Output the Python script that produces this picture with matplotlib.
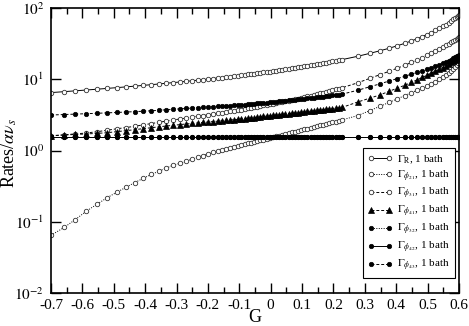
import matplotlib
matplotlib.use("Agg")
import matplotlib.pyplot as plt
from matplotlib.ticker import FixedLocator, MultipleLocator, NullLocator

plt.rcParams["font.family"] = ["Liberation Serif", "DejaVu Serif"]
plt.rcParams["mathtext.fontset"] = "stix"

# coupling G (sample points of the curves)
g = [
    -0.700, -0.658, -0.623, -0.587, -0.552, -0.520, -0.490, -0.461, -0.433, -0.406,
    -0.380, -0.356, -0.332, -0.310, -0.289, -0.269, -0.250, -0.232, -0.215, -0.199,
    -0.184, -0.169, -0.155, -0.142, -0.129, -0.117, -0.105, -0.094, -0.083, -0.073,
    -0.063, -0.053, -0.043, -0.033, -0.023, -0.013, -0.003, 0.007, 0.017, 0.027,
    0.037, 0.047, 0.057, 0.067, 0.077, 0.087, 0.097, 0.107, 0.117, 0.127,
    0.137, 0.147, 0.157, 0.167, 0.177, 0.187, 0.197, 0.207, 0.217, 0.227,
    0.277, 0.316, 0.348, 0.377, 0.403, 0.427, 0.448, 0.466, 0.483, 0.498,
    0.512, 0.525, 0.537, 0.548, 0.558, 0.567, 0.575, 0.582, 0.588, 0.593,
    0.597, 0.600,
]

rate_R = [
    6.50, 6.70, 6.88, 7.07, 7.26, 7.45, 7.63, 7.82, 8.01, 8.21,
    8.40, 8.59, 8.79, 8.98, 9.16, 9.35, 9.53, 9.71, 9.89, 10.07,
    10.23, 10.41, 10.57, 10.74, 10.90, 11.06, 11.22, 11.37, 11.53, 11.68,
    11.83, 11.98, 12.14, 12.30, 12.47, 12.64, 12.81, 12.99, 13.18, 13.37,
    13.57, 13.77, 13.98, 14.20, 14.42, 14.65, 14.89, 15.13, 15.38, 15.65,
    15.92, 16.20, 16.49, 16.79, 17.10, 17.42, 17.76, 18.11, 18.47, 18.85,
    21.0, 23.1, 25.1, 27.2, 29.5, 31.9, 34.5, 36.9, 39.7, 42.4,
    45.3, 48.4, 51.7, 55.1, 58.6, 62.2, 65.7, 69.2, 72.4, 75.4,
    78.0, 80.0,
]

rate_phi21 = [
    0.0646, 0.0832, 0.107, 0.141, 0.178, 0.219, 0.260, 0.305, 0.355, 0.407,
    0.462, 0.513, 0.569, 0.624, 0.661, 0.708, 0.759, 0.804, 0.851, 0.895,
    0.938, 0.979, 1.019, 1.054, 1.091, 1.125, 1.159, 1.191, 1.225, 1.256,
    1.288, 1.321, 1.355, 1.390, 1.426, 1.462, 1.500, 1.538, 1.578, 1.618,
    1.660, 1.702, 1.746, 1.791, 1.837, 1.884, 1.932, 1.982, 2.032, 2.084,
    2.138, 2.193, 2.249, 2.307, 2.366, 2.427, 2.489, 2.553, 2.618, 2.685,
    3.09, 3.63, 4.17, 4.73, 5.31, 5.89, 6.46, 7.00, 7.55, 8.09,
    8.67, 9.29, 9.95, 10.7, 11.4, 12.2, 13.1, 14.1, 15.0, 15.8,
    16.8, 17.8,
]

rate_phi31 = [
    1.60, 1.66, 1.71, 1.76, 1.84, 1.93, 2.02, 2.10, 2.19, 2.29,
    2.39, 2.49, 2.59, 2.69, 2.77, 2.86, 2.94, 3.02, 3.09, 3.17,
    3.24, 3.33, 3.40, 3.48, 3.55, 3.61, 3.68, 3.76, 3.84, 3.91,
    3.98, 4.06, 4.13, 4.21, 4.29, 4.37, 4.45, 4.53, 4.62, 4.72,
    4.82, 4.92, 5.02, 5.13, 5.24, 5.35, 5.46, 5.60, 5.74, 5.89,
    6.04, 6.19, 6.35, 6.52, 6.68, 6.85, 7.03, 7.21, 7.40, 7.59,
    8.91, 10.3, 11.6, 12.9, 14.3, 15.7, 17.2, 18.6, 20.1, 21.7,
    23.4, 25.1, 26.8, 28.4, 30.1, 31.6, 33.2, 34.7, 36.0, 37.1,
    38.0, 38.9,
]

rate_phi41 = [
    1.62, 1.65, 1.68, 1.71, 1.74, 1.78, 1.84, 1.90, 1.96, 2.03,
    2.09, 2.15, 2.21, 2.26, 2.31, 2.36, 2.40, 2.44, 2.48, 2.51,
    2.55, 2.58, 2.62, 2.65, 2.68, 2.71, 2.74, 2.77, 2.81, 2.84,
    2.87, 2.90, 2.94, 2.97, 3.01, 3.04, 3.08, 3.11, 3.15, 3.18,
    3.22, 3.26, 3.30, 3.33, 3.37, 3.41, 3.45, 3.49, 3.53, 3.57,
    3.61, 3.66, 3.70, 3.74, 3.79, 3.84, 3.88, 3.93, 3.97, 4.02,
    4.79, 5.43, 6.03, 6.76, 7.50, 8.22, 9.02, 9.77, 10.6, 11.4,
    12.2, 13.0, 13.8, 14.6, 15.5, 16.4, 17.3, 18.1, 18.8, 19.4,
    19.9, 20.3,
]

rate_phi32 = [
    1.56, 1.56, 1.56, 1.56, 1.56, 1.56, 1.56, 1.56, 1.56, 1.56,
    1.56, 1.56, 1.56, 1.56, 1.56, 1.56, 1.56, 1.56, 1.56, 1.56,
    1.56, 1.56, 1.56, 1.56, 1.56, 1.56, 1.56, 1.56, 1.56, 1.56,
    1.56, 1.56, 1.56, 1.56, 1.56, 1.56, 1.56, 1.56, 1.56, 1.56,
    1.56, 1.56, 1.56, 1.56, 1.56, 1.56, 1.56, 1.56, 1.56, 1.56,
    1.56, 1.56, 1.56, 1.56, 1.56, 1.56, 1.56, 1.56, 1.56, 1.56,
    1.56, 1.56, 1.56, 1.56, 1.56, 1.56, 1.56, 1.56, 1.56, 1.56,
    1.56, 1.56, 1.56, 1.56, 1.56, 1.56, 1.56, 1.56, 1.56, 1.56,
    1.56, 1.56,
]

rate_phi42 = list(rate_phi32)

rate_phi43 = [
    3.15, 3.20, 3.24, 3.29, 3.33, 3.38, 3.42, 3.47, 3.51, 3.56,
    3.61, 3.67, 3.73, 3.78, 3.84, 3.89, 3.94, 3.99, 4.04, 4.08,
    4.12, 4.16, 4.20, 4.24, 4.27, 4.31, 4.34, 4.37, 4.41, 4.45,
    4.49, 4.53, 4.57, 4.61, 4.66, 4.70, 4.74, 4.79, 4.83, 4.88,
    4.92, 4.98, 5.04, 5.09, 5.15, 5.21, 5.27, 5.33, 5.40, 5.46,
    5.52, 5.58, 5.65, 5.71, 5.79, 5.86, 5.94, 6.01, 6.08, 6.17,
    7.00, 7.85, 8.61, 9.44, 10.2, 11.0, 11.8, 12.5, 13.2, 13.9,
    14.6, 15.3, 16.0, 16.7, 17.4, 18.2, 18.9, 19.6, 20.3, 20.9,
    21.5, 21.9,
]

labels = [
    r"$\Gamma_{\mathrm{R}}$, 1 bath",
    r"$\Gamma_{\phi_{21}}$, 1 bath",
    r"$\Gamma_{\phi_{31}}$, 1 bath",
    r"$\Gamma_{\phi_{41}}$, 1 bath",
    r"$\Gamma_{\phi_{32}}$, 1 bath",
    r"$\Gamma_{\phi_{42}}$, 1 bath",
    r"$\Gamma_{\phi_{43}}$, 1 bath",
]

x_ticks = [-0.7, -0.6, -0.5, -0.4, -0.3, -0.2, -0.1, 0.0, 0.1, 0.2, 0.3, 0.4, 0.5, 0.6]
x_tick_labels = ["-0.7", "-0.6", "-0.5", "-0.4", "-0.3", "-0.2", "-0.1",
                 "0", "0.1", "0.2", "0.3", "0.4", "0.5", "0.6"]
y_ticks = [1e-2, 1e-1, 1e0, 1e1, 1e2]
y_tick_labels = [r"$10^{-2}$", r"$10^{-1}$", r"$10^{0}$", r"$10^{1}$", r"$10^{2}$"]

fig = plt.figure(figsize=(4.69, 3.26), dpi=100)
ax = fig.add_axes([0.1087, 0.1012, 0.8699, 0.8742])

open_kw = dict(color="black", marker="o", ms=3.2, mfc="white", mec="#333333", mew=0.6, lw=0.7)
fill_kw = dict(color="black", marker="o", ms=3.2, mfc="black", mec="black", mew=0.5, lw=0.7)

ax.plot(g, rate_R, ls="-", label=labels[0], **open_kw)
ax.plot(g, rate_phi21, ls=(0, (1, 1.5)), label=labels[1], **open_kw)
ax.plot(g, rate_phi31, ls=(0, (3, 2)), label=labels[2], **open_kw)
ax.plot(g, rate_phi41, ls=(0, (3, 2)), color="black", marker="^", ms=4.5,
        mfc="black", mec="black", mew=0.5, lw=0.7, label=labels[3])
ax.plot(g, rate_phi32, ls=(0, (1, 1.5)), label=labels[4], **fill_kw)
ax.plot(g, rate_phi42, ls="-", label=labels[5], **fill_kw)
ax.plot(g, rate_phi43, ls=(0, (3, 2)), label=labels[6], **fill_kw)

ax.set_yscale("log")
ax.set_xlim(-0.7, 0.6)
ax.set_ylim(1e-2, 1e2)

ax.xaxis.set_major_locator(FixedLocator(x_ticks))
ax.set_xticklabels(x_tick_labels)
ax.xaxis.set_minor_locator(MultipleLocator(0.05))
ax.yaxis.set_major_locator(FixedLocator(y_ticks))
ax.set_yticklabels(y_tick_labels)
ax.yaxis.set_minor_locator(NullLocator())

ax.tick_params(which="both", direction="in", top=True, right=True,
               labelsize=11, width=1.0)
ax.tick_params(axis="x", which="major", pad=4)
ax.tick_params(axis="y", which="major", pad=5)
ax.tick_params(which="major", length=7)
ax.tick_params(which="minor", length=4)
for sp in ax.spines.values():
    sp.set_linewidth(1.2)

ax.set_xlabel("G", fontsize=13, labelpad=-2)
ax.set_ylabel(r"Rates/$\alpha\nu_{s}$", fontsize=13)
ax.yaxis.set_label_coords(-0.078, 0.49)

leg = ax.legend(loc="lower right", bbox_to_anchor=(0.99, 0.053), borderaxespad=0,
                fontsize=8, numpoints=2, handlelength=2.2, handletextpad=0.4,
                labelspacing=0.25, borderpad=0.45, fancybox=False,
                framealpha=1.0, edgecolor="black")
leg.get_frame().set_linewidth(0.8)

fig.savefig("out.png", dpi=100)
